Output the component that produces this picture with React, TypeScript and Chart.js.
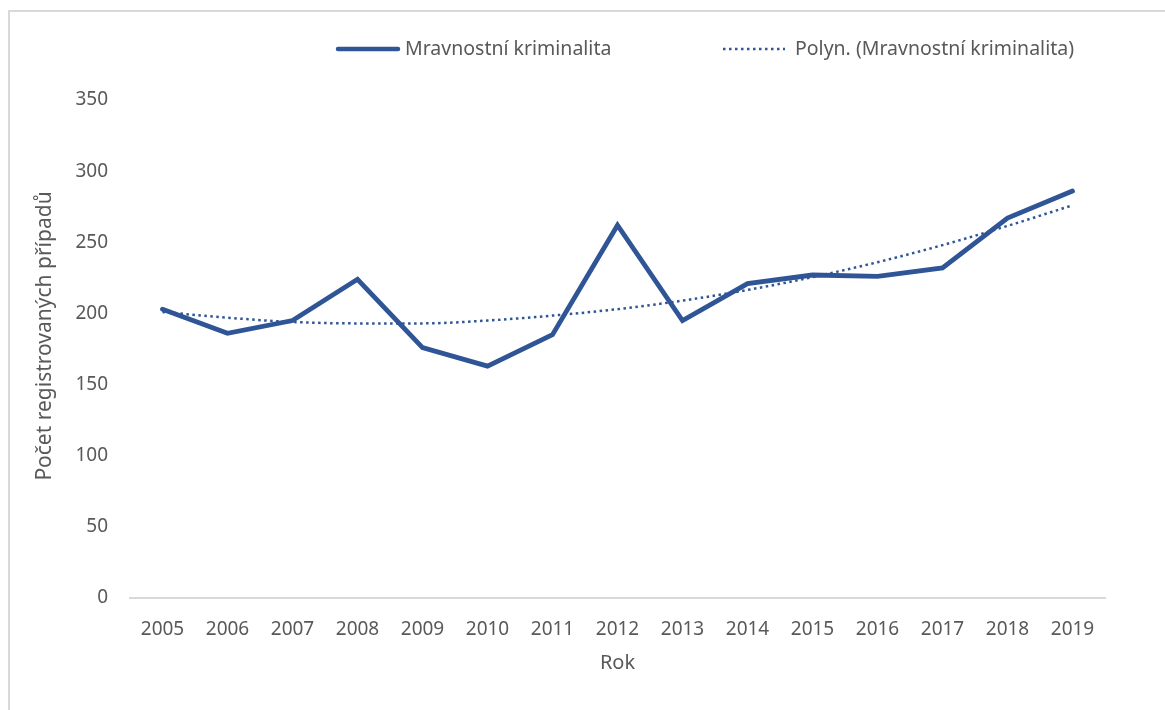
import React, { useEffect, useRef } from "react";
import { Chart, registerables } from "chart.js";

Chart.register(...registerables);

// ---- Data ----
const years = ["2005", "2006", "2007", "2008", "2009", "2010", "2011", "2012", "2013", "2014", "2015", "2016", "2017", "2018", "2019"];
const crimeCounts = [203, 186, 195, 224, 176, 163, 185, 262, 195, 221, 227, 226, 232, 267, 286];
const trendValues = [201, 197, 194, 193, 193, 195, 198.5, 203, 209, 216.5, 225.5, 236, 248, 261.5, 276];
const yMin = 0;
const yMax = 350;
const yStep = 50;

const seriesLabel = "Mravnostní kriminalita";
const trendLabel = "Polyn. (Mravnostní kriminalita)";
const yTitle = "Počet registrovaných případů";
const xTitle = "Rok";

// ---- Style ----
const FONT = "'Noto Sans', 'DejaVu Sans', sans-serif";
const BLUE = "#2F5597";
const TEXT = "#595959";
const AXIS = "#D9D9D9";

const legendPlugin = {
  id: "customLegend",
  afterDraw(chart: any) {
    const ctx = chart.ctx as CanvasRenderingContext2D;
    const y = 49;
    ctx.save();
    ctx.font = `19.5px ${FONT}`;
    ctx.fillStyle = TEXT;
    ctx.textBaseline = "middle";
    ctx.textAlign = "left";

    // solid sample
    ctx.strokeStyle = BLUE;
    ctx.lineWidth = 4.5;
    ctx.lineCap = "round";
    ctx.setLineDash([]);
    ctx.beginPath();
    ctx.moveTo(338, y);
    ctx.lineTo(398, y);
    ctx.stroke();
    ctx.fillText(seriesLabel, 405, y);

    // dotted sample
    ctx.lineWidth = 2.5;
    ctx.lineCap = "butt";
    ctx.setLineDash([2.5, 3.5]);
    ctx.beginPath();
    ctx.moveTo(723, y);
    ctx.lineTo(785, y);
    ctx.stroke();
    ctx.setLineDash([]);
    ctx.fillText(trendLabel, 795, y);

    // y-axis title
    ctx.translate(45, 336);
    ctx.rotate(-Math.PI / 2);
    ctx.font = `21px ${FONT}`;
    ctx.textAlign = "center";
    ctx.fillText(yTitle, 0, 0);
    ctx.restore();
  },
};

export default function App() {
  const canvasRef = useRef<HTMLCanvasElement | null>(null);

  useEffect(() => {
    if (!canvasRef.current) return;
    const chart = new Chart(canvasRef.current, {
      type: "line",
      data: {
        labels: years,
        datasets: [
          {
            label: seriesLabel,
            data: crimeCounts,
            borderColor: BLUE,
            backgroundColor: BLUE,
            borderWidth: 4.8,
            borderCapStyle: "round",
            borderJoinStyle: "miter",
            pointRadius: 0,
            tension: 0,
            order: 1,
          },
          {
            label: trendLabel,
            data: trendValues,
            borderColor: BLUE,
            backgroundColor: BLUE,
            borderWidth: 2.5,
            borderDash: [2.5, 3.5],
            pointRadius: 0,
            tension: 0.4,
            cubicInterpolationMode: "monotone",
            order: 2,
          },
        ],
      },
      options: {
        responsive: false,
        animation: false,
        layout: { padding: { top: 100, right: 60, left: 0, bottom: 0 } },
        plugins: {
          legend: { display: false },
          tooltip: { enabled: false },
        },
        scales: {
          x: {
            offset: true,
            grid: { display: false, drawTicks: false },
            border: { display: true, color: AXIS, width: 2 },
            ticks: {
              color: TEXT,
              font: { family: FONT, size: 19 },
              padding: 20,
              maxRotation: 0,
              autoSkip: false,
            },
            title: {
              display: true,
              text: xTitle,
              color: TEXT,
              font: { family: FONT, size: 20 },
              padding: { top: 0, bottom: 35 },
            },
            afterFit: (scale: any) => {
              scale.height = 710 - 598;
            },
          },
          y: {
            min: yMin,
            max: yMax,
            grid: { display: false, drawTicks: false },
            border: { display: false },
            ticks: {
              stepSize: yStep,
              color: TEXT,
              font: { family: FONT, size: 19 },
              padding: 22,
            },
            title: { display: false, text: yTitle },
            afterFit: (scale: any) => {
              scale.width = 130;
            },
          },
        },
      },
      plugins: [legendPlugin],
    });
    return () => chart.destroy();
  }, []);

  return (
    <div
      style={{
        position: "fixed",
        left: 0,
        top: 0,
        width: 1165,
        height: 710,
        background: "#fff",
        overflow: "hidden",
      }}
    >
      <div
        style={{
          position: "absolute",
          left: 8,
          top: 10,
          width: 1200,
          height: 800,
          borderTop: `2px solid ${AXIS}`,
          borderLeft: `2px solid ${AXIS}`,
          boxSizing: "border-box",
        }}
      />
      <canvas
        ref={canvasRef}
        width={1165}
        height={710}
        style={{ position: "absolute", left: 0, top: 0, width: 1165, height: 710 }}
      />
    </div>
  );
}
